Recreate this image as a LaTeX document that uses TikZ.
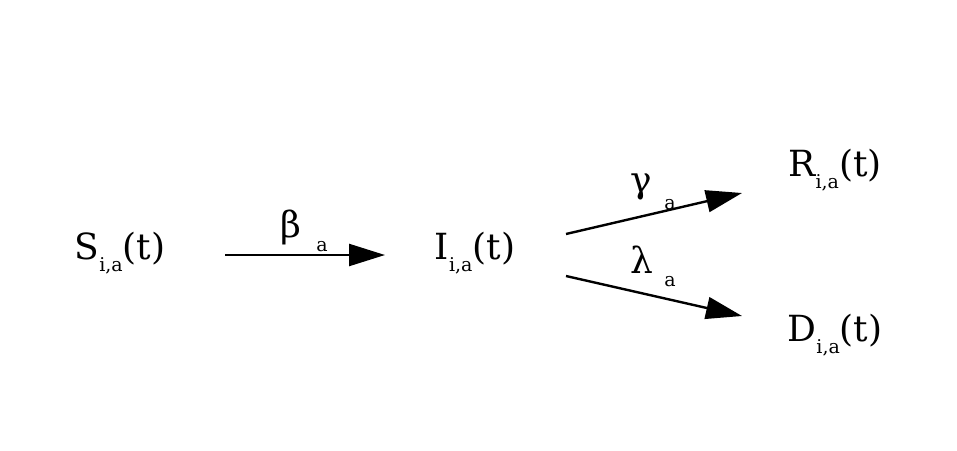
\documentclass[tikz,border=0pt]{standalone}
\usepackage{fontspec}
\setmainfont{DejaVu Serif}
\usetikzlibrary{arrows.meta}
\newcommand{\bigf}{\fontsize{36}{40}\selectfont}
\newcommand{\smf}{\fontsize{19}{22}\selectfont}
\newcommand{\lab}[2]{#1\raisebox{-12pt}{\smf #2}(t)}
\begin{document}
\begin{tikzpicture}[x=1pt,y=-1pt,
  txt/.style={font=\bigf,inner sep=0pt},
  sub/.style={font=\smf,inner sep=0pt},
  flow/.style={line width=2.4pt,-{Triangle[length=36pt,width=22pt]}}]
\useasboundingbox (0,0) rectangle (957,450);
\node[txt] (S) at (120,253) {\lab{S}{i,a}};
\node[txt] (I) at (475,253) {\lab{I}{i,a}};
\node[txt] (R) at (835,170) {\lab{R}{i,a}};
\node[txt] (D) at (835,335) {\lab{D}{i,a}};
\coordinate (s1) at (225,255); \coordinate (s2) at (385,255);
\coordinate (r1) at (566,234); \coordinate (r2) at (742,193);
\coordinate (d1) at (566,276); \coordinate (d2) at (742,316);
\draw[flow] (s1) -- (s2);
\draw[flow] (r1) -- (r2);
\draw[flow] (d1) -- (d2);
\node[txt] (b) at (291,227) {β};
\node[sub] (ba) at (322,247) {a};
\node[txt] (g) at (641,187) {γ};
\node[sub] (ga) at (670,205) {a};
\node[txt] (l) at (642,260) {λ};
\node[sub] (la) at (670,282) {a};
\end{tikzpicture}
\end{document}
